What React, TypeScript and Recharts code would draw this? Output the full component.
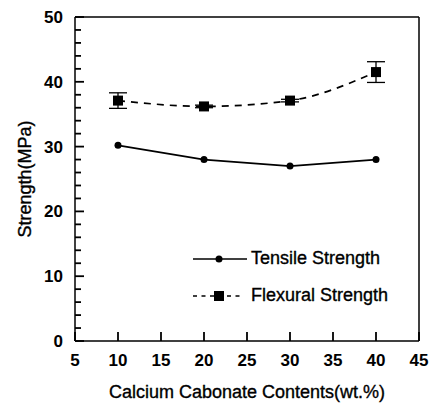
import { ComposedChart, ErrorBar, Legend, Line, XAxis, YAxis } from "recharts";

const CONTENTS = [10, 20, 30, 40];
const TENSILE = [30.2, 28.0, 27.0, 28.0];
const FLEXURAL = [37.1, 36.2, 37.1, 41.5];
const FLEXURAL_ERR = [1.2, 0.2, 0.2, 1.6];

const X_TICKS = [5, 10, 15, 20, 25, 30, 35, 40, 45];
const Y_TICKS = [0, 2, 4, 6, 8, 10, 12, 14, 16, 18, 20, 22, 24, 26, 28, 30, 32, 34, 36, 38, 40, 42, 44, 46, 48, 50];

const data = CONTENTS.map((c, i) => ({
  contents: c,
  tensile: TENSILE[i],
  flexural: FLEXURAL[i],
  flexuralErr: FLEXURAL_ERR[i],
}));

const FONT = '"Liberation Sans", Arial, sans-serif';
const INK = "#000";

const isMajorY = (v: number) => v % 10 === 0;

// tickSize/tickMargin are 0, so x and y sit on the axis line; ticks are drawn inward
function LeftTick({ x, y, payload }: any) {
  const major = isMajorY(payload.value);
  return (
    <g>
      <line x1={x} x2={x + (major ? 9 : 6)} y1={y} y2={y} stroke={INK} strokeWidth={1.8} />
      {major && (
        <text x={x - 12} y={y} dy={6} textAnchor="end" fontSize={17} fontWeight="bold" fontFamily={FONT} fill={INK}>
          {payload.value}
        </text>
      )}
    </g>
  );
}

function RightTick({ x, y, payload }: any) {
  const major = isMajorY(payload.value);
  return <line x1={x} x2={x - (major ? 9 : 6)} y1={y} y2={y} stroke={INK} strokeWidth={1.8} />;
}

function BottomTick({ x, y, payload }: any) {
  return (
    <g>
      <line x1={x} x2={x} y1={y} y2={y - 9} stroke={INK} strokeWidth={1.8} />
      <text x={x} y={y + 25} textAnchor="middle" fontSize={17} fontWeight="bold" fontFamily={FONT} fill={INK}>
        {payload.value}
      </text>
    </g>
  );
}

function TopTick({ x, y }: any) {
  return <line x1={x} x2={x} y1={y} y2={y + 9} stroke={INK} strokeWidth={1.8} />;
}

function SquareDot(props: any) {
  const { cx, cy, index } = props;
  return <rect key={`sq-${index}`} x={cx - 5} y={cy - 5} width={10} height={10} fill={INK} />;
}

function LegendBox() {
  const row = { display: "flex", alignItems: "center", height: 37 } as const;
  const label = {
    fontSize: 18,
    fontFamily: FONT,
    color: INK,
    marginLeft: 4,
    whiteSpace: "nowrap",
    WebkitTextStroke: "0.35px #000",
  } as const;
  return (
    <div>
      <div style={row}>
        <svg width={54} height={14}>
          <line x1={0} x2={54} y1={7} y2={7} stroke={INK} strokeWidth={1.7} />
          <circle cx={26} cy={7} r={3.5} fill={INK} />
        </svg>
        <span style={label}>Tensile Strength</span>
      </div>
      <div style={row}>
        <svg width={54} height={14}>
          <line x1={0} x2={50} y1={7} y2={7} stroke={INK} strokeWidth={1.7} strokeDasharray="4 4.5" />
          <rect x={21} y={2} width={10} height={10} fill={INK} />
        </svg>
        <span style={label}>Flexural Strength</span>
      </div>
    </div>
  );
}

export default function App() {
  return (
    <div style={{ position: "absolute", left: 0, top: 0, background: "#fff", fontFamily: FONT }}>
      <ComposedChart width={433} height={405} data={data} margin={{ top: 0, right: 0, bottom: 0, left: 0 }}>
        <XAxis
          dataKey="contents"
          type="number"
          domain={[5, 45]}
          ticks={X_TICKS}
          interval={0}
          height={64}
          tickSize={0}
          tickMargin={0}
          tickLine={false}
          axisLine={{ stroke: INK, strokeWidth: 1.5 }}
          tick={<BottomTick />}
          label={{
            value: "Calcium Cabonate Contents(wt.%)",
            position: "insideBottom",
            offset: 7,
            fontSize: 18,
            fontFamily: FONT,
            fill: INK,
            stroke: INK,
            strokeWidth: 0.35,
          }}
        />
        <XAxis
          xAxisId="top"
          orientation="top"
          type="number"
          domain={[5, 45]}
          ticks={X_TICKS}
          interval={0}
          height={17}
          tickSize={0}
          tickMargin={0}
          tickLine={false}
          axisLine={{ stroke: INK, strokeWidth: 1.5 }}
          tick={<TopTick />}
        />
        <YAxis
          type="number"
          domain={[0, 50]}
          ticks={Y_TICKS}
          interval={0}
          width={75}
          tickSize={0}
          tickMargin={0}
          tickLine={false}
          axisLine={{ stroke: INK, strokeWidth: 1.5 }}
          tick={<LeftTick />}
          label={{
            value: "Strength(MPa)",
            angle: -90,
            position: "insideLeft",
            offset: 25,
            fontSize: 18,
            fontFamily: FONT,
            fill: INK,
            stroke: INK,
            strokeWidth: 0.35,
            style: { textAnchor: "middle" },
          }}
        />
        <YAxis
          yAxisId="right"
          orientation="right"
          type="number"
          domain={[0, 50]}
          ticks={Y_TICKS}
          interval={0}
          width={14}
          tickSize={0}
          tickMargin={0}
          tickLine={false}
          axisLine={{ stroke: INK, strokeWidth: 1.5 }}
          tick={<RightTick />}
        />
        <Legend
          layout="horizontal"
          verticalAlign="middle"
          align="center"
          wrapperStyle={{ left: 193, top: 240, width: 220 }}
          content={() => <LegendBox />}
        />
        <Line
          type="linear"
          dataKey="tensile"
          stroke={INK}
          strokeWidth={1.7}
          dot={{ r: 3.5, fill: INK, stroke: INK, strokeWidth: 0 }}
          activeDot={false}
          isAnimationActive={false}
        />
        <Line
          type="monotone"
          dataKey="flexural"
          stroke={INK}
          strokeWidth={1.7}
          strokeDasharray="7 6"
          dot={SquareDot}
          activeDot={false}
          isAnimationActive={false}
        >
          <ErrorBar dataKey="flexuralErr" width={9} stroke={INK} strokeWidth={1.3} isAnimationActive={false} />
        </Line>
      </ComposedChart>
    </div>
  );
}
